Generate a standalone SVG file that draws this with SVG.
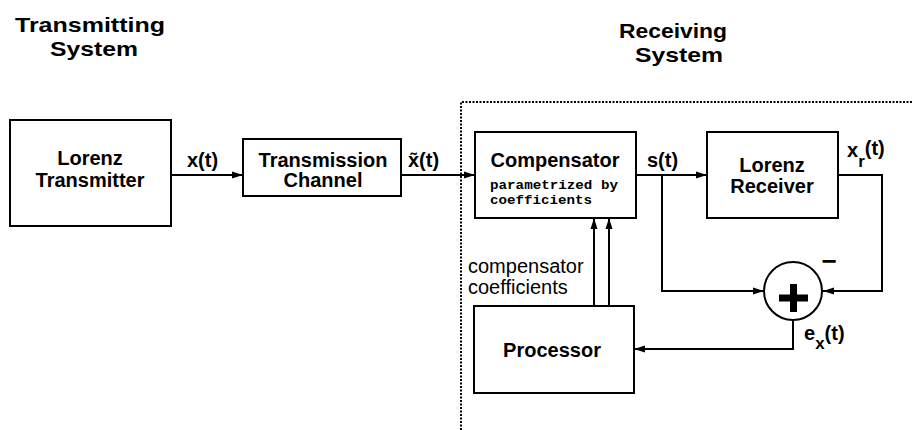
<svg xmlns="http://www.w3.org/2000/svg" width="912" height="430" viewBox="0 0 912 430">
<style>
.box{fill:#fff;stroke:#000;stroke-width:2}
.ln{fill:none;stroke:#000;stroke-width:2}
.t{font-family:"Liberation Sans",Arial,sans-serif;font-weight:bold;font-size:20px;fill:#000;text-anchor:middle}
.title{font-family:"Liberation Sans",Arial,sans-serif;font-weight:bold;font-size:21px;fill:#000;text-anchor:middle}
.lab{font-family:"Liberation Sans",Arial,sans-serif;font-weight:bold;font-size:20px;fill:#000}
.sub{font-size:17px}
.reg{font-family:"Liberation Sans",Arial,sans-serif;font-size:20px;fill:#000}
.mono{font-family:"Liberation Mono","Courier New",monospace;font-weight:bold;font-size:13px;fill:#000}
</style>
<defs>
<marker id="ah" markerWidth="12" markerHeight="8" refX="11" refY="4" orient="auto" markerUnits="userSpaceOnUse">
<path d="M0,0.5 L11,4 L0,7.5 Z" fill="#000"/>
</marker>
</defs>
<rect width="912" height="430" fill="#fff"/>
<g id="titles">
<text class="title" x="90" y="32" textLength="150" lengthAdjust="spacingAndGlyphs">Transmitting</text>
<text class="title" x="94" y="56" textLength="88" lengthAdjust="spacingAndGlyphs">System</text>
<text class="title" x="673" y="38" textLength="108" lengthAdjust="spacingAndGlyphs">Receiving</text>
<text class="title" x="679" y="62" textLength="88" lengthAdjust="spacingAndGlyphs">System</text>
</g>
<g id="receiving-boundary">
<path d="M461,430 V102 H912" fill="none" stroke="#000" stroke-width="2" stroke-dasharray="2 1.5"/>
</g>
<g id="connectors">
<line class="ln" x1="171" y1="175" x2="243" y2="175" marker-end="url(#ah)"/>
<line class="ln" x1="401" y1="175" x2="475" y2="175" marker-end="url(#ah)"/>
<line class="ln" x1="636" y1="175" x2="707" y2="175" marker-end="url(#ah)"/>
<polyline class="ln" points="662,175 662,291 764,291" marker-end="url(#ah)"/>
<polyline class="ln" points="838,175 882,175 882,291 823,291" marker-end="url(#ah)"/>
<polyline class="ln" points="793,320 793,349 634,349" marker-end="url(#ah)"/>
<line class="ln" x1="594" y1="306" x2="594" y2="218" marker-end="url(#ah)"/>
<line class="ln" x1="609" y1="306" x2="609" y2="218" marker-end="url(#ah)"/>
<text class="lab" x="187" y="167">x(t)</text>
<text class="lab" x="408" y="167">x̃(t)</text>
<text class="lab" x="647" y="167">s(t)</text>
<text class="lab" x="847" y="157">x<tspan class="sub" dy="10">r</tspan><tspan dy="-12">(t)</tspan></text>
<text class="lab" x="804" y="340">e<tspan class="sub" dy="9">x</tspan><tspan dy="-9">(t)</tspan></text>
<text class="reg" x="468" y="273">compensator</text>
<text class="reg" x="468" y="294">coefficients</text>
</g>
<g id="lorenz-transmitter">
<rect class="box" x="10" y="120" width="161" height="106"/>
<text class="t" x="90" y="165">Lorenz</text>
<text class="t" x="90" y="187">Transmitter</text>
</g>
<g id="transmission-channel">
<rect class="box" x="243" y="139" width="158" height="57"/>
<text class="t" x="323" y="167">Transmission</text>
<text class="t" x="323" y="187">Channel</text>
</g>
<g id="compensator">
<rect class="box" x="475" y="132" width="161" height="86"/>
<text class="t" x="555" y="167">Compensator</text>
<text class="mono" x="490" y="189" textLength="128" lengthAdjust="spacingAndGlyphs">parametrized by</text>
<text class="mono" x="490" y="204" textLength="102" lengthAdjust="spacingAndGlyphs">coefficients</text>
</g>
<g id="lorenz-receiver">
<rect class="box" x="707" y="132" width="131" height="86"/>
<text class="t" x="772" y="172">Lorenz</text>
<text class="t" x="772" y="193">Receiver</text>
</g>
<g id="summer">
<circle cx="793" cy="291" r="29" fill="#fff" stroke="#000" stroke-width="2"/>
<path d="M779,298 H808 M793.5,284 V312" stroke="#000" stroke-width="7" fill="none"/>
<text class="lab" x="829" y="270" text-anchor="middle" style="font-size:26px">−</text>
</g>
<g id="processor">
<rect class="box" x="474" y="306" width="160" height="87"/>
<text class="t" x="552" y="357">Processor</text>
</g>
</svg>
